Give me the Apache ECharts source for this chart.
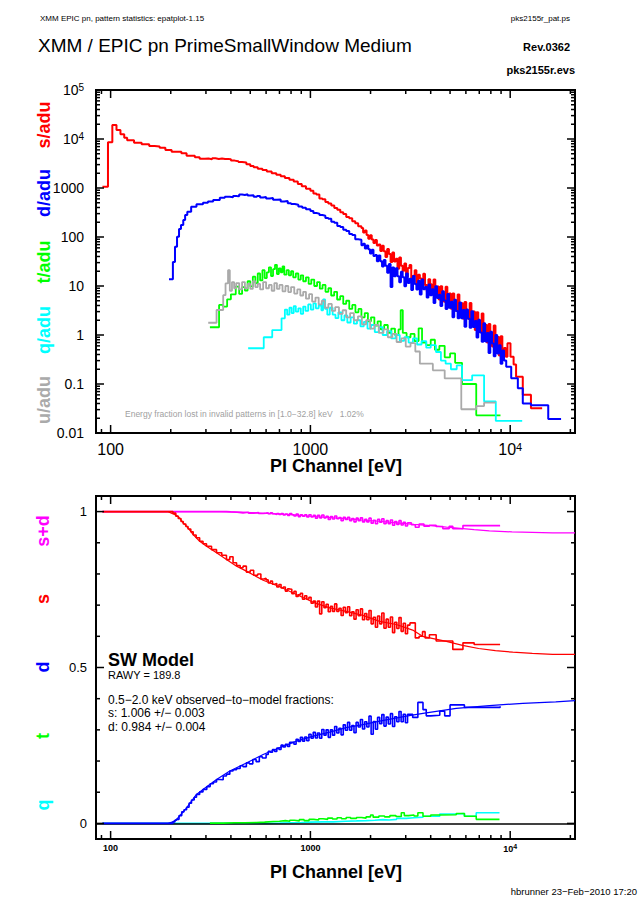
<!DOCTYPE html>
<html><head><meta charset="utf-8">
<script src="https://cdn.jsdelivr.net/npm/echarts@6/dist/echarts.min.js"></script>
<style>html,body{margin:0;padding:0;background:#fff}#c{width:640px;height:903px}</style>
</head><body><div id="c"></div>
<script>
// ---------------- data (PI channel eV, value) ----------------
// top panel, low-energy part (pairs), shared dense grid, tails
const sTopLow = [[91,1064],[97,8570],[102,19300],[107,15270],[112,12470],[117,10640],[121,9400],[131,8410],[143,7800],[156,7200],[166,7040],[176,6610],[188,5970],[202,5500],[226,5100],[240,4570],[264,4230],[279,3960],[296,3980],[309,3880],[322,4030],[335,3920],[348,4010],[361,3890],[374,3930],[387,3850],[400,3620],[418,3510],[436,3380],[455,3300],[478,3050],[500,2800],[520,2640],[545,2460],[575,2330],[605,2180],[640,2000],[675,1870],[710,1740],[745,1600],[785,1470],[825,1350],[865,1200],[905,1080],[950,960],[1000,880],[1035,770],[1071,740],[1109,610],[1148,590],[1188,520],[1229,480],[1272,440],[1317,390],[1363,360],[1411,320],[1460,295],[1511,255],[1564,240],[1619,210],[1676,190],[1734,165]];
const dTopLow = [[196,13.7],[205,31],[210,63],[215,101],[220,145],[225,176],[231,222],[236,281],[242,329],[253,415],[269,465],[290,501],[307,530],[326,569],[352,634],[373,660],[395,650],[410,690],[425,675],[440,735],[455,720],[470,743],[485,700],[500,715],[520,660],[540,690],[560,640],[580,655],[600,610],[625,625],[650,575],[680,580],[710,530],[740,545],[770,490],[800,470],[835,455],[870,420],[910,395],[950,370],[1000,340],[1035,310],[1071,300],[1109,280],[1148,272],[1188,244],[1229,236],[1272,204],[1317,196],[1363,168],[1411,160],[1460,140],[1511,132],[1564,115],[1619,110],[1676,90],[1734,88]];
const eTopHi = [1800,1836,1873,1910,1948,1987,2027,2068,2109,2151,2194,2238,2283,2328,2375,2422,2471,2520,2571,2622,2675,2728,2783,2838,2895,2953,3012,3072,3134,3197,3261,3326,3392,3460,3529,3600,3672,3745,3820,3897,3975,4054,4135,4218,4302,4388,4476,4566,4657,4750,4845,4942,5041,5142,5245,5350,5457,5566,5677,5791,5906,6025,6145,6268,6394,6521,6652,6785,6920,7059,7200,7344,7491,7641,7793,7949,8108,8270,8436,8605,8777,8952,9131,9314];
const sTopHi = [152,123,136,110,92,109,89,75,87,67,70,52,66,51,39,57,45,31,48,31.5,36,22.5,38,26,20.4,28.8,15.5,23.3,26.9,14.5,16.2,21,10.5,17,14.2,10,17.8,10.5,7.8,13.7,10.9,7.1,13.5,7.3,9.8,5.3,9.9,7.0,4.75,9.6,5.3,7.0,3.45,7.0,5.2,3.1,6.7,3.1,4.45,2.15,4.7,3.05,2.15,4.5,2.1,3.0,1.26,2.9,1.7,1.15,2.75,1.12,1.6,0.7,1.67,0.99,0.58,1.56,0.57,0.91,0.38,0.94,0.43,0.54];
const dTopHi = [68,73,58,67,56,46,55,41,43,32,42,32,25,34,26,18.7,28,9.5,23.8,15.8,22.9,15.9,11.9,19.5,15,9.9,18,11.5,14.1,8.3,16,11,8.5,12.8,6.7,13.6,8.6,9.5,5.8,10.7,6.5,8.6,4.5,9.9,5.7,6.6,3.9,7.8,5.05,3.4,6.9,3.6,4.75,2.3,5.25,3.1,2.2,4.6,2.2,3.25,1.47,3.3,2.15,1.4,3.05,1.46,1.92,0.89,2.04,1.12,0.73,1.73,0.74,1.1,0.43,1.17,0.67,0.37,1.0,0.42,0.62,0.26,0.48,0.3];
const sTopTail = [[9500,0.36],[9690,0.68],[10030,0.36],[10400,0.25],[10700,0.14],[11560,0.06],[12700,0.032],[14450,0.032]];
const dTopTail = [[9550,0.225],[10115,0.131],[10920,0.082],[11560,0.04],[12700,0.037],[15500,0.0193],[17970,0.0193]];
const tTop = [[314,1.44],[349,4.1],[366,3.8],[383,5.35],[400,6.77],[423,9.7],[440,6.9],[455,9.5],[470,8.1],[485,12.5],[500,9.8],[515,15.5],[530,11.5],[545,18],[560,13],[575,21],[590,14.5],[605,19],[620,24],[635,16],[650,22],[665,27],[680,17.5],[695,23],[710,19],[725,25],[740,17],[760,21],[780,16.5],[800,20],[820,15],[845,18],[870,13.5],[895,16.5],[920,12.5],[950,15],[980,11],[1010,13.5],[1045,10],[1080,12],[1115,8.8],[1150,10.5],[1190,7.6],[1230,9],[1270,6.4],[1315,7.6],[1360,5.3],[1410,6.2],[1460,4.3],[1510,5.0],[1565,3.4],[1620,4.1],[1680,2.9],[1740,3.4],[1800,2.3],[1870,2.8],[1940,1.9],[2010,2.3],[2090,1.55],[2170,1.9],[2250,1.3],[2340,1.6],[2440,1.1],[2540,1.35],[2650,1.0],[2760,1.3],[2830,3.2],[2900,1.1],[3030,0.9],[3170,1.05],[3320,0.75],[3480,1.37],[3620,0.7],[3800,0.62],[4000,0.8],[4200,0.5],[4420,0.6],[4700,0.35],[5000,0.42],[5300,0.27],[5740,0.1],[6760,0.023],[8940,0.023]];
const qTop = [[488,0.536],[584,0.9],[644,1.26],[717,2.19],[745,3.3],[765,2.6],[785,3.6],[805,2.8],[825,3.9],[845,3.0],[870,3.5],[895,2.7],[920,3.8],[945,3.1],[975,4.2],[1005,3.3],[1035,4.4],[1065,3.5],[1100,4.0],[1135,3.2],[1157,5.3],[1185,3.4],[1215,2.6],[1250,3.6],[1292,2.6],[1335,2.2],[1380,2.9],[1430,2.0],[1480,2.5],[1530,1.8],[1590,2.3],[1650,1.7],[1710,2.0],[1780,1.5],[1850,1.85],[1930,1.35],[2010,1.6],[2100,1.15],[2200,1.45],[2300,1.0],[2420,1.2],[2540,0.85],[2670,1.0],[2800,0.76],[2950,0.9],[3100,0.7],[3260,0.85],[3420,0.64],[3600,0.75],[3800,0.55],[4000,0.62],[4250,0.45],[4500,0.3],[4750,0.26],[5050,0.2],[5400,0.24],[5740,0.12],[6450,0.15],[7400,0.044],[8470,0.0176],[11480,0.0176]];
const uTop = [[308,1.78],[339,3.24],[366,6.5],[376,11.3],[387,21],[395,8],[405,12],[415,9],[425,11.5],[440,8.5],[455,12],[470,9],[485,11],[500,8.7],[515,12.5],[530,9.5],[545,11],[560,8.5],[580,12],[600,9],[620,10.5],[640,8],[660,11.5],[680,8.7],[700,10.5],[725,7.8],[750,10],[775,7.5],[800,9.5],[830,7],[860,8.5],[890,6.4],[920,7.6],[950,5.5],[985,6.8],[1020,4.8],[1060,5.8],[1100,4.2],[1140,5.0],[1180,3.6],[1230,4.3],[1280,3.1],[1330,3.7],[1390,2.7],[1450,3.2],[1510,2.3],[1580,2.8],[1650,2.0],[1730,2.4],[1810,1.65],[1900,2.0],[1990,1.35],[2090,1.6],[2200,1.1],[2320,1.3],[2440,0.9],[2570,1.05],[2700,0.72],[2850,0.85],[3000,0.58],[3170,0.68],[3350,0.46],[3530,0.26],[4100,0.19],[4700,0.13],[5690,0.0305],[6760,0.0355],[7400,0.0415],[8470,0.0415]];

// bottom panel: low part (pairs), shared mid grid, high part (pairs)
const sdObsLow = [[91,1.0],[300,1.0],[380,0.999],[400,0.998],[430,0.996],[460,0.998],[490,0.995],[520,0.997],[550,0.994],[580,0.995]];
const sObsLow = [[91,1.0],[194,1.0],[205,0.995],[212,0.985],[218,0.978],[225,0.968],[231,0.96],[238,0.952],[244,0.944],[252,0.935],[259,0.925],[268,0.916],[279,0.905],[290,0.897],[302,0.889],[320,0.878],[339,0.868],[360,0.86],[380,0.846],[395,0.855],[410,0.836],[427,0.827],[445,0.82],[460,0.825],[478,0.806],[500,0.812],[520,0.796],[545,0.8],[565,0.784],[585,0.786]];
const dObsLow = [[91,0],[194,0],[205,0.005],[210,0.01],[214,0.013],[220,0.025],[227,0.037],[233,0.044],[240,0.052],[247,0.065],[254,0.075],[262,0.084],[269,0.093],[279,0.101],[290,0.109],[303,0.118],[315,0.127],[327,0.133],[339,0.141],[352,0.14],[366,0.152],[380,0.158],[395,0.168],[410,0.172],[427,0.176],[445,0.185],[460,0.182],[478,0.194],[495,0.191],[515,0.205],[535,0.198],[555,0.214],[575,0.21]];
const eBotMid = [600,615,630,646,662,679,696,713,731,749,768,787,807,827,848,869,891,913,936,959,983,1008,1033,1059,1085,1112,1140,1169,1198,1228,1259,1290,1322,1355,1389,1424,1460,1496,1534,1572,1611,1652,1693,1735,1779,1823,1869,1916,1964,2013,2063,2115,2168,2222,2277,2334,2393,2453,2514,2577,2641,2707,2775,2844,2915,2988,3063];
const sdObsMid = [0.996,0.993,0.996,0.993,0.991,0.994,0.991,0.994,0.989,0.992,0.988,0.994,0.990,0.986,0.992,0.984,0.990,0.985,0.990,0.983,0.990,0.983,0.988,0.979,0.988,0.980,0.989,0.980,0.985,0.975,0.984,0.976,0.986,0.977,0.981,0.971,0.982,0.975,0.982,0.971,0.978,0.967,0.979,0.971,0.980,0.967,0.975,0.967,0.979,0.963,0.972,0.961,0.975,0.966,0.977,0.961,0.971,0.961,0.973,0.956,0.968,0.959,0.971,0.957,0.966,0.954,0.964];
const sObsMid = [0.781,0.771,0.777,0.767,0.769,0.758,0.766,0.755,0.758,0.745,0.752,0.751,0.737,0.744,0.728,0.733,0.738,0.719,0.730,0.719,0.725,0.706,0.713,0.694,0.713,0.672,0.711,0.692,0.703,0.679,0.696,0.680,0.704,0.680,0.690,0.667,0.693,0.676,0.695,0.666,0.679,0.655,0.685,0.666,0.688,0.653,0.673,0.653,0.683,0.640,0.661,0.629,0.665,0.640,0.675,0.626,0.655,0.629,0.662,0.612,0.645,0.625,0.660,0.616,0.642,0.608,0.636];
const dObsMid = [0.221,0.231,0.228,0.237,0.231,0.242,0.237,0.251,0.245,0.254,0.247,0.260,0.260,0.254,0.270,0.263,0.276,0.264,0.277,0.265,0.286,0.273,0.292,0.274,0.290,0.273,0.301,0.283,0.300,0.276,0.300,0.283,0.311,0.290,0.305,0.284,0.316,0.299,0.324,0.299,0.314,0.291,0.324,0.309,0.333,0.303,0.326,0.309,0.344,0.286,0.327,0.302,0.340,0.320,0.349,0.312,0.341,0.319,0.352,0.311,0.342,0.326,0.359,0.326,0.350,0.323,0.350];
const sdObsHigh = [[3200,0.958],[3350,0.95],[3500,0.96],[3700,0.953],[3940,0.956],[4260,0.952],[4600,0.945],[4950,0.953],[5160,0.945],[5800,0.955],[8900,0.955]];
const sObsHigh = [[3150,0.643],[3350,0.595],[3500,0.6],[3640,0.615],[3750,0.595],[3940,0.605],[4260,0.585],[5160,0.558],[5800,0.579],[6600,0.574],[8900,0.574]];
const dObsHigh = [[3250,0.34],[3450,0.388],[3660,0.365],[3800,0.345],[4000,0.347],[4440,0.36],[4700,0.345],[5000,0.38],[5900,0.372],[8900,0.376]];
const sdModel = [[91,1.0],[350,1.0],[450,0.998],[600,0.994],[800,0.99],[1000,0.985],[1250,0.981],[1500,0.977],[1800,0.973],[2200,0.969],[2700,0.964],[3300,0.959],[4000,0.955],[4800,0.95],[5800,0.9455],[6600,0.942],[7860,0.938],[10200,0.935],[16300,0.932],[21100,0.932]];
const sModel = [[91,1.0],[194,1.0],[218,0.985],[231,0.964],[244,0.948],[259,0.926],[279,0.905],[302,0.889],[339,0.868],[380,0.846],[427,0.825],[478,0.809],[580,0.78],[703,0.759],[851,0.734],[1033,0.709],[1250,0.691],[1510,0.68],[1830,0.667],[2220,0.648],[2690,0.638],[3250,0.62],[3640,0.6],[4790,0.584],[5770,0.571],[6950,0.561],[8430,0.554],[10300,0.549],[12900,0.545],[16300,0.542],[21100,0.542]];
const dModel = [[91,0],[194,0],[205,0.005],[214,0.013],[240,0.05],[269,0.093],[290,0.109],[339,0.141],[395,0.168],[478,0.194],[580,0.221],[703,0.243],[851,0.264],[1033,0.28],[1250,0.293],[1510,0.307],[1830,0.317],[2220,0.328],[3020,0.344],[3660,0.353],[5370,0.369],[7860,0.378],[11560,0.385],[16900,0.39],[21100,0.394]];
const tObs = [[314,0.001],[366,0.002],[420,0.002],[470,0.003],[537,0.004],[590,0.006],[651,0.007],[700,0.009],[750,0.007],[788,0.01],[830,0.008],[880,0.012],[930,0.009],[985,0.013],[1040,0.011],[1100,0.015],[1157,0.013],[1220,0.017],[1290,0.014],[1360,0.018],[1430,0.015],[1510,0.019],[1590,0.016],[1700,0.019],[1800,0.017],[1900,0.021],[2000,0.027],[2060,0.02],[2200,0.024],[2350,0.021],[2500,0.025],[2680,0.022],[2850,0.034],[2950,0.025],[3100,0.027],[3300,0.024],[3450,0.034],[3660,0.023],[4000,0.027],[4440,0.028],[5370,0.032],[5900,0.023],[6760,0.013],[8840,0.013]];
const qObs = [[91,0],[500,0],[600,0.001],[703,0.002],[800,0.003],[900,0.004],[1000,0.005],[1157,0.005],[1300,0.007],[1500,0.008],[1700,0.009],[1900,0.01],[2100,0.012],[2300,0.011],[2480,0.013],[2700,0.016],[3020,0.018],[3300,0.02],[3660,0.023],[4440,0.03],[5370,0.032],[5900,0.023],[6760,0.034],[8840,0.034]];

// axis ranges and tick labels
const xRange = [84.5, 21100];
const yTopRange = [0.01, 1e5];
const yBotRange = [-0.05, 1.05];
const xLabelExp = [2, 3, 4];
const xLabelText = [['100'], ['1000'], ['10', '4']];
const yTopLabelExp = [-2, -1, 0, 1, 2, 3, 4, 5];
const yTopLabelText = [['0.01'], ['0.1'], ['1'], ['10'], ['100'], ['1000'], ['10', '4'], ['10', '5']];
const yBotLabelVals = [0, 0.5, 1];
const yBotLabelText = ['0', '0.5', '1'];
const yBotTicks = [0, 0.1, 0.2, 0.3, 0.4, 0.5, 0.6, 0.7, 0.8, 0.9, 1.0];

const zip = (es, vs) => es.map((e, i) => [e, vs[i]]);
const sTop = sTopLow.concat(zip(eTopHi, sTopHi), sTopTail);
const dTop = dTopLow.concat(zip(eTopHi, dTopHi), dTopTail);
const sdObs = sdObsLow.concat(zip(eBotMid, sdObsMid), sdObsHigh);
const sObs = sObsLow.concat(zip(eBotMid, sObsMid), sObsHigh);
const dObs = dObsLow.concat(zip(eBotMid, dObsMid), dObsHigh);

const F = '"Liberation Sans", Arial, sans-serif';
const RED = '#ff0000', BLUE = '#0000ff', GREEN = '#00ff00', CYAN = '#00ffff', GRAY = '#aaaaaa', MAG = '#ff00ff';

function logFmt(exps, texts) {
  return function (v) {
    const l = Math.log10(v), r = Math.round(l);
    if (Math.abs(l - r) > 1e-6) return '';
    const i = exps.indexOf(r);
    if (i < 0) return '';
    const t = texts[i];
    return t.length === 1 ? '{m|' + t[0] + '}' : '{m|' + t[0] + '}{s|' + t[1] + '}';
  };
}
function logTicks(lo, hi) {
  const out = [];
  for (let k = Math.floor(Math.log10(lo)) - 1; k <= Math.ceil(Math.log10(hi)); k++)
    for (let m = 1; m <= 9; m++) {
      const v = m * Math.pow(10, k);
      if (v >= lo * 0.9999 && v <= hi * 1.0001) out.push([v, m === 1]);
    }
  return out;
}
function tickData(xt, yt, xRef, yRef) {
  const d = [];
  xt.forEach(t => d.push([t[0], yRef, 0, t[1] ? 8 : 4]));
  yt.forEach(t => d.push([xRef, t[0], 1, t[1] ? 8 : 4]));
  return d;
}
function tickSeries(idx, data) {
  return {
    type: 'custom', xAxisIndex: idx, yAxisIndex: idx, silent: true, z: 20, clip: false,
    encode: { x: 0, y: 1 }, data: data,
    renderItem: function (params, api) {
      const cs = params.coordSys;
      const p = api.coord([api.value(0), api.value(1)]);
      const kind = api.value(2), len = api.value(3);
      const st = { stroke: '#000', lineWidth: 1.5 };
      let a, b;
      if (kind === 0) {
        a = { x1: p[0], y1: cs.y + cs.height, x2: p[0], y2: cs.y + cs.height - len };
        b = { x1: p[0], y1: cs.y, x2: p[0], y2: cs.y + len };
      } else {
        a = { x1: cs.x, y1: p[1], x2: cs.x + len, y2: p[1] };
        b = { x1: cs.x + cs.width, y1: p[1], x2: cs.x + cs.width - len, y2: p[1] };
      }
      return { type: 'group', children: [{ type: 'line', shape: a, style: st }, { type: 'line', shape: b, style: st }] };
    }
  };
}
function stepLine(idx, data, color, width, z) {
  return { type: 'line', xAxisIndex: idx, yAxisIndex: idx, data: data, step: 'end', showSymbol: false, symbol: 'none',
    lineStyle: { color: color, width: width }, itemStyle: { color: color }, z: z || 2, silent: true, animation: false };
}
function modelLine(idx, data, color, z) {
  return { type: 'line', xAxisIndex: idx, yAxisIndex: idx, data: data, showSymbol: false, symbol: 'none',
    lineStyle: { color: color, width: 1.2 }, itemStyle: { color: color }, z: z || 2, silent: true, animation: false };
}
function txt(x, y, text, font, fill, align, extra) {
  return Object.assign({ type: 'text', x: x, y: y, silent: true,
    style: { text: text, font: font, fill: fill || '#000', align: align || 'left', verticalAlign: 'middle',
      textAlign: align || 'left', textVerticalAlign: 'middle' } }, extra || {});
}

const xTicks = logTicks(xRange[0], xRange[1]);
const yTopTicks = logTicks(yTopRange[0], yTopRange[1]);
const yBotTickList = yBotTicks.map(v => [v, yBotLabelVals.some(b => Math.abs(b - v) < 1e-9)]);

const axisCommon = { axisLine: { show: false }, axisTick: { show: false }, splitLine: { show: false }, minorTick: { show: false } };

const chart = echarts.init(document.getElementById('c'), null, { renderer: 'svg', width: 640, height: 903 });
chart.setOption({
  animation: false,
  backgroundColor: '#fff',
  grid: [
    { left: 96, top: 90, width: 479, height: 343, show: true, borderColor: '#000', borderWidth: 2, backgroundColor: 'transparent' },
    { left: 96, top: 496, width: 479, height: 343, show: true, borderColor: '#000', borderWidth: 2, backgroundColor: 'transparent' }
  ],
  xAxis: [
    Object.assign({ type: 'log', logBase: 10, gridIndex: 0, min: xRange[0], max: xRange[1],
      axisLabel: { showMinLabel: false, showMaxLabel: false, margin: 8, color: '#000', formatter: logFmt(xLabelExp, xLabelText),
        rich: { m: { fontSize: 16, fontFamily: F, color: '#000' }, s: { fontSize: 11, fontFamily: F, color: '#000', verticalAlign: 'top', padding: [0, 0, 6, 0] } } } }, axisCommon),
    Object.assign({ type: 'log', logBase: 10, gridIndex: 1, min: xRange[0], max: xRange[1],
      axisLabel: { showMinLabel: false, showMaxLabel: false, margin: 4, color: '#000', formatter: logFmt(xLabelExp, xLabelText),
        rich: { m: { fontSize: 9, fontWeight: 'bold', fontFamily: F, color: '#000' }, s: { fontSize: 7, fontWeight: 'bold', fontFamily: F, color: '#000', verticalAlign: 'top', padding: [0, 0, 4, 0] } } } }, axisCommon)
  ],
  yAxis: [
    Object.assign({ type: 'log', logBase: 10, gridIndex: 0, min: yTopRange[0], max: yTopRange[1],
      axisLabel: { margin: 12, color: '#000', formatter: logFmt(yTopLabelExp, yTopLabelText),
        rich: { m: { fontSize: 14, fontFamily: F, color: '#000' }, s: { fontSize: 10, fontFamily: F, color: '#000', verticalAlign: 'top', padding: [0, 0, 6, 0] } } } }, axisCommon),
    Object.assign({ type: 'value', gridIndex: 1, min: yBotRange[0], max: yBotRange[1], interval: 0.05,
      axisLabel: { margin: 9, color: '#000', fontSize: 13, fontFamily: F,
        formatter: function (v) { const i = yBotLabelVals.findIndex(b => Math.abs(b - v) < 1e-6); return i < 0 ? '' : yBotLabelText[i]; } } }, axisCommon)
  ],
  series: [
    stepLine(0, sTop, RED, 2, 2),
    stepLine(0, dTop, BLUE, 2, 3),
    stepLine(0, tTop, GREEN, 1.8, 4),
    stepLine(0, qTop, CYAN, 1.8, 5),
    stepLine(0, uTop, GRAY, 1.8, 6),
    Object.assign(modelLine(1, sdModel, MAG, 2), { markLine: { silent: true, symbol: 'none', label: { show: false },
      lineStyle: { color: '#000', width: 1.5, type: 'solid' }, data: [{ yAxis: 0 }] } }),
    stepLine(1, sdObs, MAG, 1.6, 3),
    modelLine(1, sModel, RED, 4),
    stepLine(1, sObs, RED, 1.6, 4),
    stepLine(1, qObs, CYAN, 1.6, 4),
    modelLine(1, dModel, BLUE, 5),
    stepLine(1, dObs, BLUE, 1.6, 5),
    stepLine(1, tObs, GREEN, 1.6, 6),
    tickSeries(0, tickData(xTicks, yTopTicks, 1000, 1)),
    tickSeries(1, tickData(xTicks, yBotTickList, 1000, 0.5))
  ],
  graphic: [
    txt(40, 18, 'XMM EPIC pn, pattern statistics: epatplot-1.15', '8px ' + F),
    txt(570, 18, 'pks2155r_pat.ps', '8px ' + F, '#000', 'right'),
    txt(38, 45, 'XMM / EPIC pn PrimeSmallWindow Medium', '19px ' + F),
    txt(570, 47, 'Rev.0362', 'bold 11px ' + F, '#000', 'right'),
    txt(575, 70, 'pks2155r.evs', 'bold 11px ' + F, '#000', 'right'),
    txt(125, 414, 'Energy fraction lost in invalid patterns in [1.0\u221232.8] keV   1.02%', '8.5px ' + F, '#a0a0a0'),
    txt(336, 466, 'PI Channel [eV]', 'bold 18px ' + F, '#000', 'center'),
    txt(336, 872, 'PI Channel [eV]', 'bold 18px ' + F, '#000', 'center'),
    txt(108, 660, 'SW Model', 'bold 18px ' + F),
    txt(108, 675, 'RAWY = 189.8', '11px ' + F),
    txt(108, 700, '0.5\u22122.0 keV observed\u2212to\u2212model fractions:', '12px ' + F),
    txt(108, 713, 's: 1.006 +/\u2212 0.003', '12px ' + F),
    txt(108, 727, 'd: 0.984 +/\u2212 0.004', '12px ' + F),
    txt(637, 891, 'hbrunner 23\u2212Feb\u22122010 17:20', '9.5px ' + F, '#000', 'right'),
    txt(44, 125, 's/adu', 'bold 18px ' + F, RED, 'center', { rotation: Math.PI / 2 }),
    txt(44, 193, 'd/adu', 'bold 18px ' + F, BLUE, 'center', { rotation: Math.PI / 2 }),
    txt(44, 262, 't/adu', 'bold 18px ' + F, GREEN, 'center', { rotation: Math.PI / 2 }),
    txt(44, 330, 'q/adu', 'bold 18px ' + F, CYAN, 'center', { rotation: Math.PI / 2 }),
    txt(44, 400, 'u/adu', 'bold 18px ' + F, GRAY, 'center', { rotation: Math.PI / 2 }),
    txt(43, 531, 's+d', 'bold 18px ' + F, MAG, 'center', { rotation: Math.PI / 2 }),
    txt(43, 599, 's', 'bold 18px ' + F, RED, 'center', { rotation: Math.PI / 2 }),
    txt(43, 667, 'd', 'bold 18px ' + F, BLUE, 'center', { rotation: Math.PI / 2 }),
    txt(43, 736, 't', 'bold 18px ' + F, GREEN, 'center', { rotation: Math.PI / 2 }),
    txt(43, 805, 'q', 'bold 18px ' + F, CYAN, 'center', { rotation: Math.PI / 2 })
  ]
});
</script></body></html>
